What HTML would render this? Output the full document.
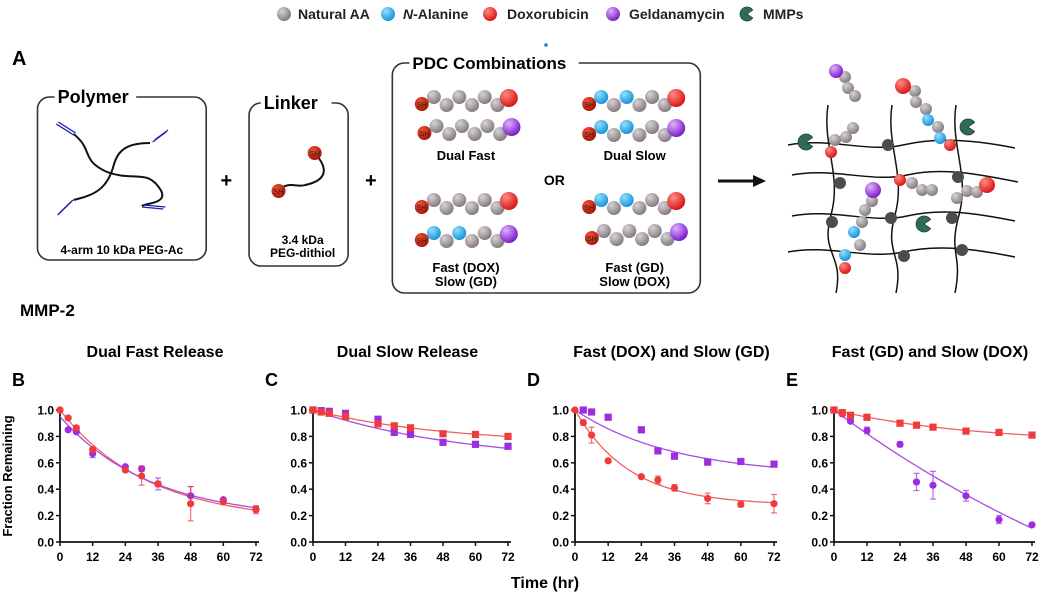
<!DOCTYPE html>
<html><head><meta charset="utf-8">
<style>
body{margin:0;background:#fff;}
svg{display:block;font-family:"Liberation Sans",Arial,sans-serif;}
.b{font-weight:bold;}
</style></head>
<body>
<svg id="fig" width="1053" height="603" viewBox="0 0 1053 603" xmlns="http://www.w3.org/2000/svg">
<defs>
<radialGradient id="gGray" cx="35%" cy="30%" r="70%"><stop offset="0" stop-color="#d8d2d6"/><stop offset="1" stop-color="#857c82"/></radialGradient>
<radialGradient id="gBlue" cx="35%" cy="30%" r="70%"><stop offset="0" stop-color="#8fe0ff"/><stop offset="1" stop-color="#1b93d8"/></radialGradient>
<radialGradient id="gRed" cx="35%" cy="30%" r="70%"><stop offset="0" stop-color="#ff8a80"/><stop offset="1" stop-color="#d81818"/></radialGradient>
<radialGradient id="gPur" cx="35%" cy="30%" r="70%"><stop offset="0" stop-color="#e0b0ff"/><stop offset="1" stop-color="#7a1fc8"/></radialGradient>
<radialGradient id="gSH" cx="35%" cy="30%" r="70%"><stop offset="0" stop-color="#f05030"/><stop offset="1" stop-color="#a81808"/></radialGradient>
</defs>
<g id="schematic"></g>
<g id="charts"></g>
</svg>
<script>
const NS='http://www.w3.org/2000/svg';
function mk(parent,tag,attrs,text){const e=document.createElementNS(NS,tag);for(const k in attrs)e.setAttribute(k,attrs[k]);if(text!==undefined)e.textContent=text;parent.appendChild(e);return e;}
const K=1.339;
const sx=x=>x*K;
const sp=d=>d.replace(/(-?[\d.]+),(-?[\d.]+)/g,(m,a,b)=>(sx(+a)).toFixed(1)+','+b);
const S=document.getElementById('schematic');
const grad={g:'url(#gGray)',b:'url(#gBlue)',r:'url(#gRed)',p:'url(#gPur)',s:'url(#gSH)',d:'#4a4d50'};
function bead(p,x,y,r,c){return mk(p,'circle',{cx:x,cy:y,r:r,fill:grad[c]});}
function pac(p,x,y,r){const a=0.6;return mk(p,'path',{d:`M${x},${y} L${x+r*Math.cos(-a)},${y+r*Math.sin(-a)} A${r},${r} 0 1 0 ${x+r*Math.cos(a)},${y+r*Math.sin(a)} Z`,fill:'#2f6b55',stroke:'#1d4a3a','stroke-width':0.8});}

// legend
const L=mk(S,'g',{});


const leg=[['g',284,'Natural AA',298],['b',388,'N-Alanine',403],['r',490,'Doxorubicin',507],['p',613,'Geldanamycin',629]];
leg.forEach(l=>{bead(L,l[1],14,7,l[0]);const t=mk(L,'text',{x:l[3],y:19,'font-size':14,class:'b',fill:'#222'});
if(l[2]==='N-Alanine'){mk(t,'tspan',{'font-style':'italic'},'N');mk(t,'tspan',{},'-Alanine');}else t.textContent=l[2];});
pac(L,747,14,7);
mk(L,'text',{x:763,y:19,'font-size':14,class:'b',fill:'#222'},'MMPs');
mk(S,'circle',{cx:546,cy:45,r:1.8,fill:'#1b7fd0'});
mk(S,'text',{x:12,y:65,'font-size':20,class:'b'},'A');

// boxes
function box(x,y,w,h,label,lx,fs){mk(S,'rect',{x:sx(x),y:y,width:w*K,height:h,rx:12,fill:'none',stroke:'#333','stroke-width':1.6});
const tw=label.length*fs*0.6;mk(S,'rect',{x:sx(lx)-3,y:y-8,width:tw+6,height:16,fill:'#fff'});
mk(S,'text',{x:sx(lx),y:y+6,'font-size':fs,class:'b'},label);}
box(28,97,126,163,'Polymer',43,18);
box(186,103,74,163,'Linker',197,18);
box(293,63,230,230,'PDC Combinations',308,17);
// polymer arms
mk(S,'path',{d:sp('M55,134 C70,150 60,160 80,172 C100,182 110,168 120,190 C126,204 108,203 106,206'),fill:'none',stroke:'#111','stroke-width':2});
mk(S,'path',{d:sp('M112,143 C95,143 88,150 85,165 C80,190 70,195 55,200'),fill:'none',stroke:'#111','stroke-width':2});
[[42,124,55,135],[114,142,124,132],[43,215,53,202],[106,207,122,209]].forEach(a=>{mk(S,'line',{x1:sx(a[0]),y1:a[1],x2:sx(a[2]),y2:a[3],stroke:'#1a1fb0','stroke-width':1.3});mk(S,'line',{x1:sx(a[0])+2,y1:a[1]-2,x2:sx(a[2])+2,y2:a[3]-2,stroke:'#1a1fb0','stroke-width':1.3});});
mk(S,'text',{x:sx(91),y:254,'font-size':12,class:'b','text-anchor':'middle'},'4-arm 10 kDa PEG-Ac');
// linker
mk(S,'path',{d:sp('M208,191 C215,180 222,188 228,185 C245,180 245,168 235,153'),fill:'none',stroke:'#111','stroke-width':2});
bead(S,sx(235),153,7,'s');mk(S,'text',{x:sx(235),y:156,'font-size':7.5,'text-anchor':'middle',fill:'#222'},'SH');
bead(S,sx(208),191,7,'s');mk(S,'text',{x:sx(208),y:194,'font-size':7.5,'text-anchor':'middle',fill:'#222'},'SH');
mk(S,'text',{x:sx(226),y:244,'font-size':12,class:'b','text-anchor':'middle'},'3.4 kDa');
mk(S,'text',{x:sx(226),y:257,'font-size':12,class:'b','text-anchor':'middle'},'PEG-dithiol');
mk(S,'text',{x:sx(169),y:187,'font-size':20,class:'b','text-anchor':'middle'},'+');
mk(S,'text',{x:sx(277),y:187,'font-size':20,class:'b','text-anchor':'middle'},'+');
// chains
function chain(x,y,seq,end){bead(S,sx(x),y+4,7,'s');mk(S,'text',{x:sx(x),y:y+7,'font-size':7,'text-anchor':'middle',fill:'#222'},'SH');
for(let i=0;i<seq.length;i++){bead(S,sx(x+9+i*9.5),y+(i%2?5:-3),7,seq[i]);}
bead(S,sx(x+9+seq.length*9.5-1),y-2,9,end);}
chain(315,100,'gggggg','r');chain(317,129,'gggggg','p');
chain(440,100,'bgbggg','r');chain(440,130,'bgbggg','p');
chain(315,203,'gggggg','r');chain(315,236,'bgbggg','p');
chain(440,203,'bgbggg','r');chain(442,234,'gggggg','p');
const T=(x,y,s,fs)=>mk(S,'text',{x:sx(x),y:y,'font-size':fs||13,class:'b','text-anchor':'middle'},s);
T(348,160,'Dual Fast');T(474,160,'Dual Slow');T(414,185,'OR',14);
T(348,272,'Fast (DOX)');T(348,286,'Slow (GD)');T(474,272,'Fast (GD)');T(474,286,'Slow (DOX)');
// arrow
mk(S,'line',{x1:718,y1:181,x2:755,y2:181,stroke:'#111','stroke-width':3});
mk(S,'path',{d:'M753,175 L766,181 L753,187 Z',fill:'#111'});
// network
const N=mk(S,'g',{});


[[788,145,1015,148],[792,175,1018,182],[792,216,1015,221],[788,252,1015,257]].forEach(l=>mk(N,'path',{d:`M${l[0]},${l[1]} C${l[0]+40},${l[1]-8} ${l[0]+80},${l[1]+8} ${l[0]+115},${l[1]} S${l[2]-40},${l[3]-8} ${l[2]},${l[3]}`,fill:'none',stroke:'#111','stroke-width':1.5}));
[[828,105,836,293],[892,105,896,293],[956,105,955,293]].forEach(l=>mk(N,'path',{d:`M${l[0]},${l[1]} C${l[0]-6},${l[1]+40} ${l[0]+14},${l[1]+70} ${l[0]+3},${l[1]+110} S${l[2]+8},${l[3]-40} ${l[2]},${l[3]}`,fill:'none',stroke:'#111','stroke-width':1.5}));
[[888,145,'d'],[840,183,'d'],[958,177,'d'],[832,222,'d'],[891,218,'d'],[952,218,'d'],[904,256,'d'],[962,250,'d']].forEach(n=>bead(N,n[0],n[1],6,n[2]));
bead(N,831,152,6,'r');bead(N,950,145,6,'r');bead(N,900,180,6,'r');bead(N,845,255,6,'b');bead(N,845,268,6,'r');
[[835,140],[846,137],[853,128]].forEach(p=>bead(N,p[0],p[1],6,'g'));
[[845,77],[848,88],[855,96]].forEach(p=>bead(N,p[0],p[1],6,'g'));bead(N,836,71,7,'p');
[[915,91],[916,102],[926,109]].forEach(p=>bead(N,p[0],p[1],6,'g'));bead(N,928,120,6,'b');bead(N,938,127,6,'g');bead(N,940,138,6,'b');bead(N,903,86,8,'r');
[[912,183],[922,190],[932,190]].forEach(p=>bead(N,p[0],p[1],6,'g'));
[[957,198],[967,191],[977,192]].forEach(p=>bead(N,p[0],p[1],6,'g'));bead(N,987,185,8,'r');
[[872,201],[865,210],[862,222],[860,245]].forEach(p=>bead(N,p[0],p[1],6,'g'));bead(N,873,190,8,'p');bead(N,854,232,6,'b');
pac(N,806,142,8);pac(N,968,127,8);pac(N,924,224,8);

mk(S,'text',{x:20,y:316,'font-size':17,class:'b'},'MMP-2');

// ================= CHARTS =================
const times=[0,3,6,12,24,30,36,48,60,72];
const titles=['Dual Fast Release','Dual Slow Release','Fast (DOX) and Slow (GD)','Fast (GD) and Slow (DOX)'];
const letters=['B','C','D','E'];
const yTicks=[0,0.2,0.4,0.6,0.8,1.0];
const xTicks=[0,12,24,36,48,60,72];
// fraction remaining (DOX = red, GD = purple)
const doxB=[1.0,0.94,0.865,0.70,0.545,0.50,0.44,0.29,0.305,0.245];
const gdB=[1.0,0.85,0.835,0.67,0.57,0.555,0.44,0.35,0.32,0.25];
const doxC=[1.0,0.985,0.975,0.95,0.895,0.88,0.865,0.82,0.815,0.80];
const gdC=[1.0,0.995,0.99,0.975,0.93,0.83,0.815,0.755,0.74,0.725];
const doxD=[1.0,0.905,0.81,0.615,0.495,0.47,0.41,0.33,0.285,0.29];
const gdD=[null,1.0,0.985,0.945,0.85,0.69,0.65,0.605,0.61,0.59];
const doxE=[1.0,0.98,0.96,0.945,0.90,0.885,0.87,0.84,0.83,0.81];
const gdE=[1.0,0.97,0.915,0.845,0.74,0.455,0.43,0.35,0.17,0.13];
// error bars (SD)
const doxBErr=[0,0,0.01,0.02,0.01,0.07,0.02,0.13,0.01,0.03];
const gdBErr=[0,0,0,0.03,0,0.02,0.045,0.07,0,0.02];
const doxDErr=[0,0.02,0.06,0,0,0.03,0.025,0.04,0.02,0.07];
const gdEErr=[0,0,0.01,0.025,0.02,0.065,0.105,0.04,0.03,0];
// one-phase decay fit parameters: [Y0, plateau, k]
const fitDoxB=[1.0,0.15,0.031], fitGdB=[0.95,0.17,0.030];
const fitDoxC=[1.0,0.74,0.0204], fitGdC=[1.0,0.60,0.018];
const fitDoxD=[1.0,0.28,0.051], fitGdD=[1.0,0.50,0.028];
const fitDoxE=[1.0,0.75,0.020], fitGdE=[1.0,-1.4,0.00649];

const RED='#ee3b3b', PUR='#9d2ee0', REDL='#f06060', PURL='#a64de6';
const panels=[
 {x0:60,x1:256,dox:doxB,gd:gdB,de:doxBErr,ge:gdBErr,fd:fitDoxB,fg:fitGdB,shD:'c',shG:'c'},
 {x0:313,x1:508,dox:doxC,gd:gdC,de:null,ge:null,fd:fitDoxC,fg:fitGdC,shD:'s',shG:'s'},
 {x0:575,x1:774,dox:doxD,gd:gdD,de:doxDErr,ge:null,fd:fitDoxD,fg:fitGdD,shD:'c',shG:'s'},
 {x0:834,x1:1032,dox:doxE,gd:gdE,de:null,ge:gdEErr,fd:fitDoxE,fg:fitGdE,shD:'s',shG:'c'}];
const yTop=410,yBot=542;
const C=document.getElementById('charts');
panels.forEach((p,i)=>{
 const g=mk(C,'g',{});
 
 
 const X=t=>p.x0+(p.x1-p.x0)*t/72, Y=v=>yBot-(yBot-yTop)*v;
 const tt=mk(g,'text',{x:(p.x0+p.x1)/2-3,y:357,'font-size':16,class:'b','text-anchor':'middle'},titles[i]);
 
 
 mk(g,'text',{x:p.x0-48,y:386,'font-size':18,class:'b'},letters[i]);
 mk(g,'line',{x1:p.x0,y1:yTop-2,x2:p.x0,y2:yBot,stroke:'#111','stroke-width':1.8});
 mk(g,'line',{x1:p.x0,y1:yBot,x2:p.x1+3,y2:yBot,stroke:'#111','stroke-width':1.8});
 yTicks.forEach(v=>{mk(g,'line',{x1:p.x0-4,y1:Y(v),x2:p.x0,y2:Y(v),stroke:'#111','stroke-width':1.5});
  mk(g,'text',{x:p.x0-6,y:Y(v)+4.5,'font-size':12,class:'b','text-anchor':'end'},v.toFixed(1));});
 xTicks.forEach(t=>{mk(g,'line',{x1:X(t),y1:yBot,x2:X(t),y2:yBot+4,stroke:'#111','stroke-width':1.5});
  mk(g,'text',{x:X(t),y:yBot+19,'font-size':12,class:'b','text-anchor':'middle'},String(t));});
 [[p.fd,REDL],[p.fg,PURL]].forEach(f=>{let d='';for(let t=0;t<=72;t+=1){const v=f[0][1]+(f[0][0]-f[0][1])*Math.exp(-f[0][2]*t);d+=(t?'L':'M')+X(t).toFixed(1)+','+Y(v).toFixed(1);}
  const l=mk(g,'path',{d:d,fill:'none',stroke:f[1],'stroke-width':1.3});
  
  });
 [[p.gd,p.ge,PUR,p.shG,'gd'],[p.dox,p.de,RED,p.shD,'dox']].forEach(s=>{
  s[0].forEach((v,j)=>{if(v===null)return;const cx=X(times[j]),cy=Y(v);
   if(s[1]&&s[1][j]>0.015){mk(g,'line',{x1:cx,y1:Y(v+s[1][j]),x2:cx,y2:Y(v-s[1][j]),stroke:s[2],'stroke-width':1.2,opacity:0.7});
    [v+s[1][j],v-s[1][j]].forEach(w=>mk(g,'line',{x1:cx-3,y1:Y(w),x2:cx+3,y2:Y(w),stroke:s[2],'stroke-width':1.2,opacity:0.7}));}
   const m=s[3]==='c'?mk(g,'circle',{cx:cx,cy:cy,r:3.6,fill:s[2]}):mk(g,'rect',{x:cx-3.6,y:cy-3.6,width:7.2,height:7.2,fill:s[2]});
   
   });});
});
const yt=mk(C,'text',{x:0,y:0,'font-size':13,class:'b','text-anchor':'middle',transform:'translate(12,476) rotate(-90)'},'Fraction Remaining');


const xt=mk(C,'text',{x:545,y:588,'font-size':16,class:'b','text-anchor':'middle'},'Time (hr)');


</script>
</body></html>
